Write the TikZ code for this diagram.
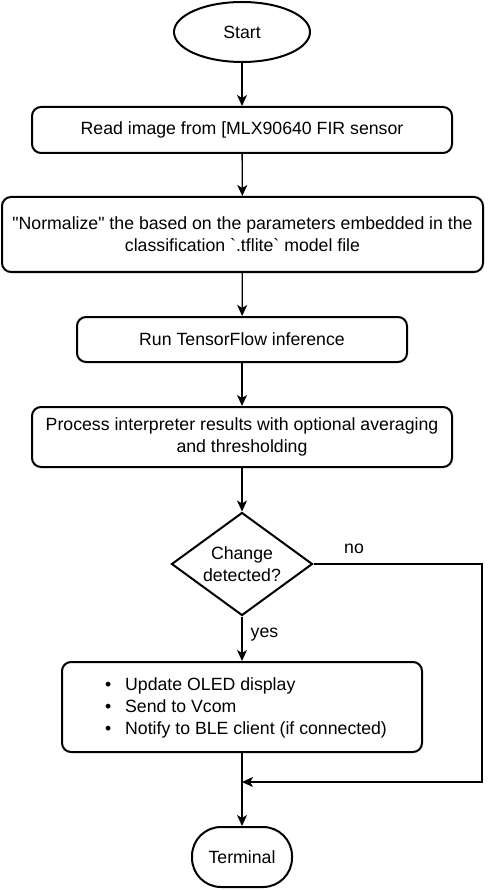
\documentclass[tikz,border=0pt]{standalone}
\usepackage{fontspec}
\setmainfont{Liberation Sans}[Ligatures=TeXOff]
\usetikzlibrary{arrows.meta, positioning, shapes.geometric, calc}

\begin{document}
\begin{tikzpicture}[x=1pt, y=-1pt,
    every node/.style={font=\fontsize{17.7}{22}\selectfont, inner sep=0pt},
    stepbox/.style={draw, line width=2pt, rounded corners=9pt, align=center},
    flow/.style={line width=1.3pt, -{Stealth[length=11pt, width=10pt, inset=3pt]}}]
    \useasboundingbox (0,0) rectangle (495,890);

    % Start / end
    \node[draw, line width=2pt, ellipse, minimum width=136pt, minimum height=60pt] (start) at (242,32) {Start};
    \node[stepbox, rounded corners=29pt, minimum width=100pt, minimum height=60pt] (term) at (242,857) {Terminal};

    % Steps
    \node[stepbox, minimum width=420pt, minimum height=46pt] (read) at (242,130) {Read image from [MLX90640 FIR sensor};
    \node[stepbox, minimum width=481pt, minimum height=75pt] (norm) at (242.5,234.5) {"Normalize" the based on the parameters embedded in the\\classification `.tflite` model file};
    \node[stepbox, minimum width=330pt, minimum height=45pt] (run) at (242,339.5) {Run TensorFlow inference};
    \node[stepbox, minimum width=420pt, minimum height=60pt] (proc) at (242,437) {Process interpreter results with optional averaging\\and thresholding};

    % Decision
    \node[draw, line width=2pt, diamond, aspect=1.4, minimum width=141pt, minimum height=103pt, align=center] (dec) at (242,564) {Change\\detected?};
    \node[stepbox, minimum width=360pt, minimum height=90pt] (upd) at (242,707) {};
    \node[anchor=west, align=left] (updtext) at (125,707.5) {\llap{\textbullet\hspace{14pt}}Update OLED display\\\llap{\textbullet\hspace{14pt}}Send to Vcom\\\llap{\textbullet\hspace{14pt}}Notify to BLE client (if connected)};

    % Connectors
    \draw[flow] (start) -- (read);
    \draw[flow] (read) -- (norm);
    \draw[flow] (norm) -- (run);
    \draw[flow] (run) -- (proc);
    \draw[flow] (proc) -- (dec);
    \draw[flow] (dec) -- (upd) node[pos=0.4, right=8pt] (yeslbl) {yes};
    \draw[flow] (upd) -- (term);

    % No branch
    \coordinate (merge) at (242,782);
    \coordinate (nocorner) at (482,782);
    \draw[flow] (dec.east) -| (nocorner) -- (merge);
    \node (nolbl) at (354,549) {no};
\end{tikzpicture}
\end{document}
